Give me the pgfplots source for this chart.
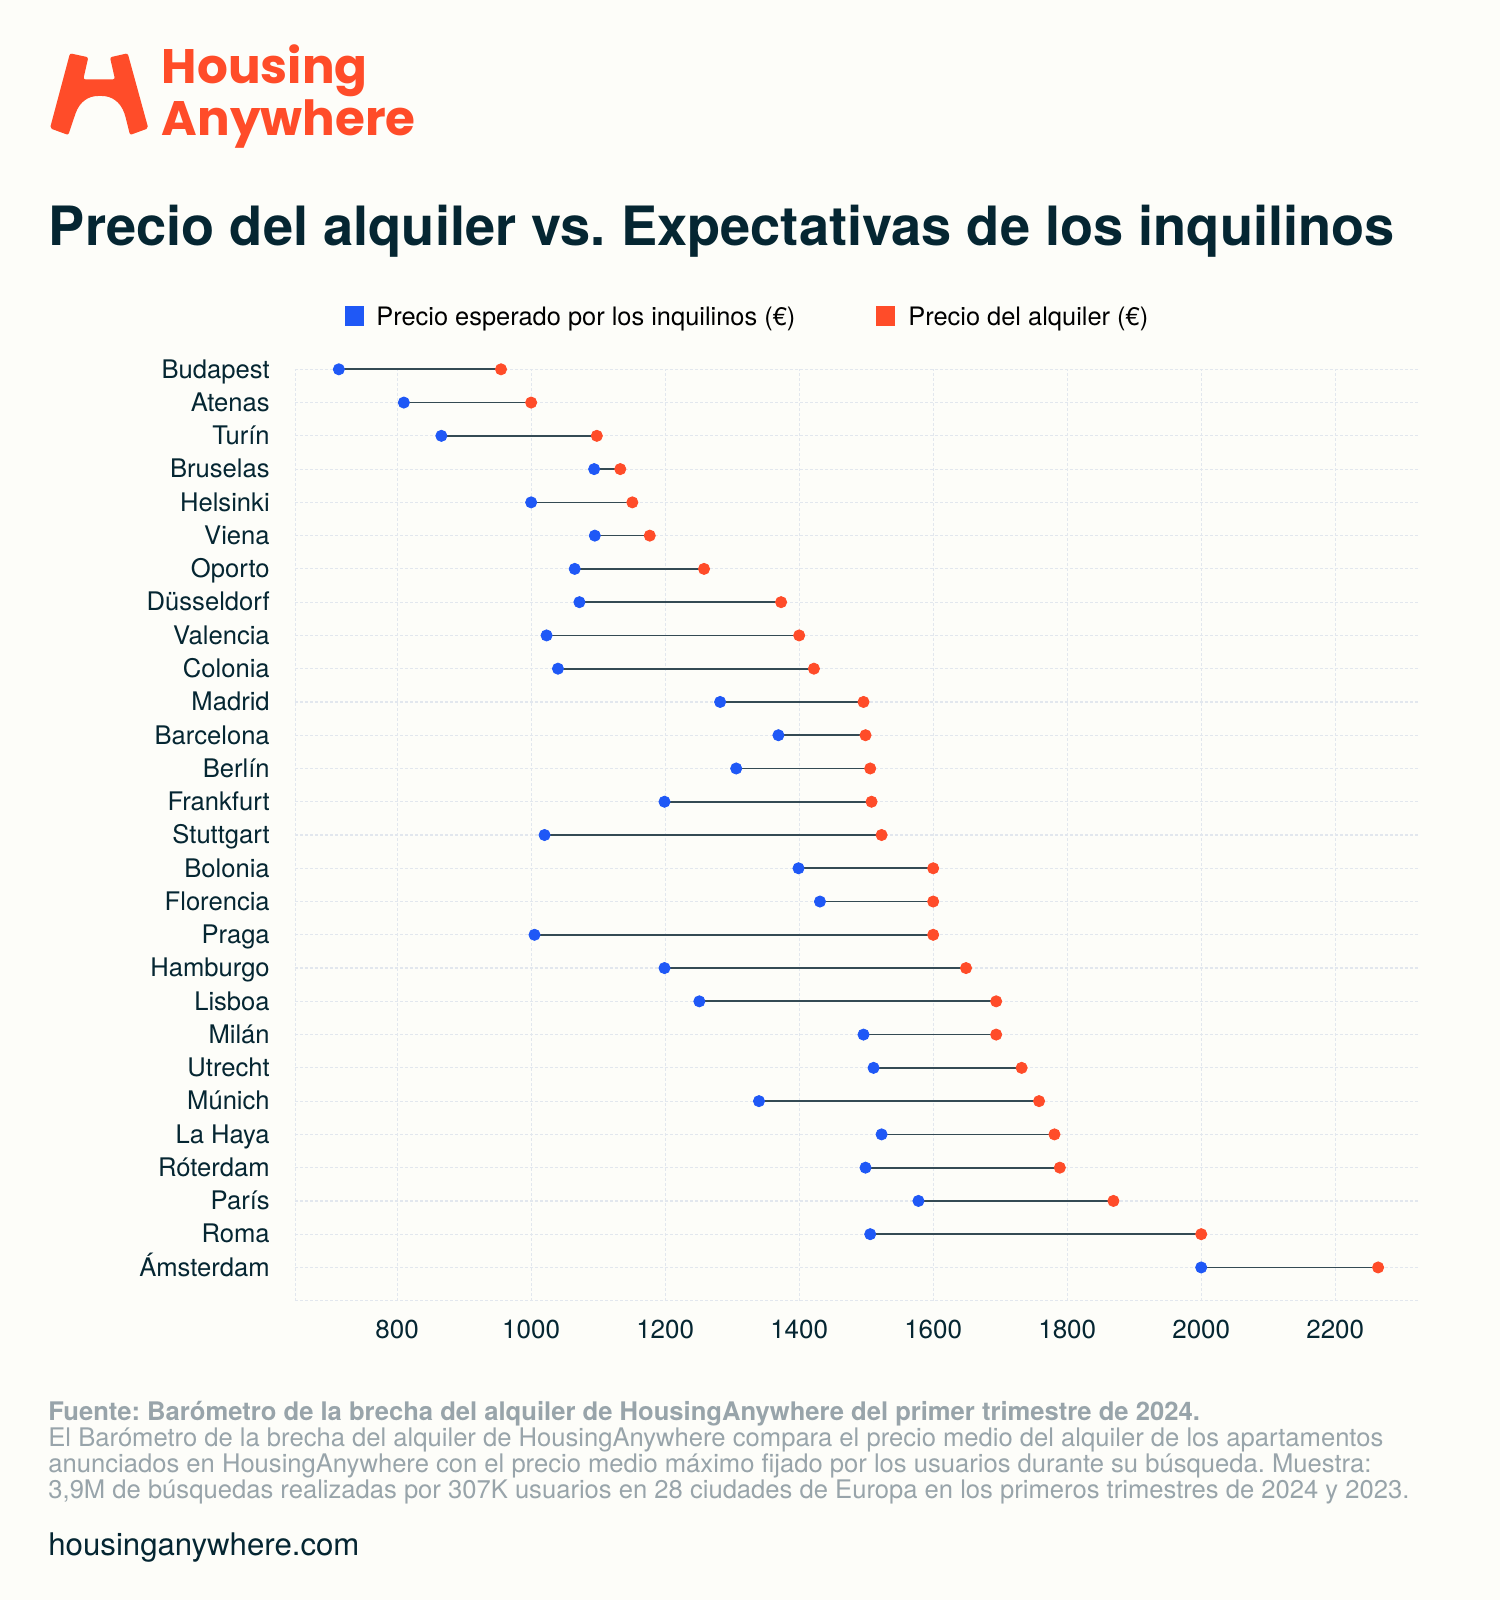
\documentclass[border=0pt]{standalone}
\usepackage{fontspec}
\setmainfont{TeX Gyre Heros}
\newfontfamily\logofont{Poppins}
\usepackage{pgfplots}
\usepackage{pgfplotstable}
\pgfplotsset{compat=1.18}
\frenchspacing

\definecolor{bg}{RGB}{253,253,249}
\definecolor{navy}{RGB}{5,38,50}
\definecolor{haorange}{RGB}{255,76,41}
\definecolor{hablue}{RGB}{31,88,246}
\definecolor{conn}{RGB}{52,74,84}
\definecolor{gridc}{RGB}{226,231,238}
\definecolor{foot}{RGB}{152,164,170}

\pgfplotstableread{
idx exp rent
0 713 955
1 810 1000
2 866 1098
3 1094 1133
4 1000 1151
5 1095 1177
6 1065 1258
7 1072 1373
8 1023 1400
9 1040 1422
10 1282 1496
11 1369 1499
12 1306 1506
13 1199 1508
14 1020 1523
15 1399 1600
16 1431 1600
17 1005 1600
18 1199 1649
19 1251 1694
20 1496 1694
21 1511 1732
22 1340 1758
23 1523 1781
24 1499 1789
25 1578 1869
26 1506 2000
27 2000 2264
}\data

\begin{document}
\begin{tikzpicture}
\begin{scope}[x=0.5pt,y=-0.5pt]
  \fill[bg] (0,0) rectangle (1500,1600);
  \useasboundingbox (0,0) rectangle (1500,1600);
  % logo mark
  \fill[haorange, rounded corners=1pt] (50,128.3) -- (70,53.3) -- (88.3,57.3) -- (83.3,79.3) -- (115,79.3) -- (110,57.3) -- (127.7,53.3) -- (148.3,128.3) -- (130,135) -- (125,115)
     .. controls (120,101) and (111,96) .. (100,96)
     .. controls (89,96) and (80,101) .. (75,115) -- (68.3,135) -- cycle;
  \node[anchor=base west, inner sep=0pt, text=haorange, align=left, font=\logofont\bfseries\fontsize{24.2}{22.85}\selectfont] at (161.5,135) {Housing\\Anywhere};
  % title
  \node[anchor=base west, inner sep=0pt, text=navy, font=\bfseries\fontsize{27.1}{27.1}\selectfont] at (48.5,245) {Precio del alquiler vs. Expectativas de los inquilinos};
  % legend
  \fill[hablue] (345,306) rectangle (364,326);
  \node[anchor=base west, inner sep=0pt, text=black, font=\fontsize{12.7}{12.7}\selectfont] at (376,325) {Precio esperado por los inquilinos (€)};
  \fill[haorange] (876,306) rectangle (895.4,326);
  \node[anchor=base west, inner sep=0pt, text=black, font=\fontsize{12.7}{12.7}\selectfont] at (908,325) {Precio del alquiler (€)};
  % footer
  \node[anchor=base west, inner sep=0pt, text=foot, font=\bfseries\fontsize{12.8}{12.8}\selectfont] at (48,1420) {Fuente: Barómetro de la brecha del alquiler de HousingAnywhere del primer trimestre de 2024.};
  \node[anchor=base west, inner sep=0pt, text=foot, font=\fontsize{12.8}{12.8}\selectfont] at (48,1446.5) {El Barómetro de la brecha del alquiler de HousingAnywhere compara el precio medio del alquiler de los apartamentos};
  \node[anchor=base west, inner sep=0pt, text=foot, font=\fontsize{12.8}{12.8}\selectfont] at (48,1472.5) {anunciados en HousingAnywhere con el precio medio máximo fijado por los usuarios durante su búsqueda. Muestra:};
  \node[anchor=base west, inner sep=0pt, text=foot, font=\fontsize{12.8}{12.8}\selectfont] at (48,1498.5) {3,9M de búsquedas realizadas por 307K usuarios en 28 ciudades de Europa en los primeros trimestres de 2024 y 2023.};
  \node[anchor=base west, inner sep=0pt, text=navy, font=\fontsize{15.6}{15.6}\selectfont] at (48,1555) {housinganywhere.com};
  \coordinate (plotSW) at (295.3,1300.7);
\end{scope}
\begin{axis}[
  at={(plotSW)}, anchor=south west,
  scale only axis, width=561.5pt, height=465.7pt,
  xmin=648, xmax=2324, ymin=0, ymax=28,
  clip=false,
  axis line style={draw=none},
  major tick length=0pt,
  tick style={draw=none},
  xtick={648,800,1000,1200,1400,1600,1800,2000,2200},
  xticklabels={{},800,1000,1200,1400,1600,1800,2000,2200},
  ytick={0,...,28},
  yticklabels={{},Ámsterdam,Roma,París,Róterdam,La Haya,Múnich,Utrecht,Milán,Lisboa,Hamburgo,Praga,Florencia,Bolonia,Stuttgart,Frankfurt,Berlín,Barcelona,Madrid,Colonia,Valencia,Düsseldorf,Oporto,Viena,Helsinki,Bruselas,Turín,Atenas,Budapest},
  grid=major,
  major grid style={draw=gridc, line width=0.6pt, dash pattern=on 1.5pt off 1pt},
  xticklabel style={font=\fontsize{13}{13}\selectfont, text=navy, inner sep=0pt, anchor=north, yshift=-9.6pt},
  yticklabel style={font=\fontsize{12.8}{12.8}\selectfont, text=navy, inner sep=0pt, anchor=base east, xshift=-12.6pt, yshift=-4.4pt},
]
\addplot[draw=none, mark=none, forget plot,
  error bars/.cd, x dir=plus, x explicit, error mark=none,
  error bar style={draw=conn, line width=0.85pt, solid}]
  table[x=exp, y expr=28-\thisrow{idx}, x error expr=\thisrow{rent}-\thisrow{exp}] {\data};
\addplot[only marks, mark=*, mark size=2.8pt, color=hablue, mark options={draw=hablue, fill=hablue}]
  table[x=exp, y expr=28-\thisrow{idx}] {\data};
\addplot[only marks, mark=*, mark size=2.8pt, color=haorange, mark options={draw=haorange, fill=haorange}]
  table[x=rent, y expr=28-\thisrow{idx}] {\data};
\end{axis}
\end{tikzpicture}
\end{document}
